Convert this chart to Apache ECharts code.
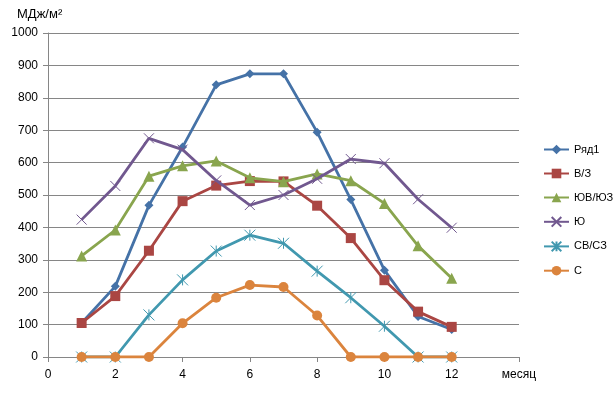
<!DOCTYPE html>
<html>
<head>
<meta charset="utf-8">
<script src="https://cdn.jsdelivr.net/npm/echarts@6/dist/echarts.min.js"></script>
<style>
html, body { margin: 0; padding: 0; background: #fff; }
#root { width: 615px; height: 396px; }
</style>
</head>
<body>
<div id="root"></div>
<script>
var months = [1, 2, 3, 4, 5, 6, 7, 8, 9, 10, 11, 12];
var seriesNames = ['Ряд1', 'В/З', 'ЮВ/ЮЗ', 'Ю', 'СВ/СЗ', 'С'];
var row1 = [105, 218, 468, 648, 840, 874, 874, 694, 486, 268, 125, 85];
var westEast = [105, 188, 328, 481, 529, 543, 542, 467, 367, 237, 140, 93];
var swSe = [312, 392, 558, 590, 605, 553, 541, 565, 544, 474, 343, 243];
var south = [424, 528, 675, 640, 545, 469, 500, 550, 611, 598, 487, 399];
var nwNe = [0, 0, 130, 238, 327, 376, 351, 265, 183, 95, 0, 0];
var north = [0, 0, 0, 104, 183, 222, 216, 128, 0, 0, 0, 0];
var colors = ['#4572A7', '#AA4643', '#89A54E', '#71588F', '#4198AF', '#DB843D'];

var crossPath = 'path://M0,0L10,10M10,0L0,10';
var starPath = 'path://M0,0L10,10M10,0L0,10M5,0L5,10';
var symbols = ['diamond', 'rect', 'triangle', crossPath, starPath, 'circle'];
var sizes = [9, 10, 11, 10, 11, 10];
var allData = [row1, westEast, swSe, south, nwNe, north];

var font = 'Liberation Sans';

function makeSeries(i) {
    var pts = months.map(function (m, k) { return [m, allData[i][k]]; });
    var stroke = (i === 3 || i === 4);
    return {
        name: seriesNames[i],
        type: 'line',
        data: pts,
        symbol: symbols[i],
        symbolSize: sizes[i],
        showAllSymbol: true,
        lineStyle: { color: colors[i], width: 2.8 },
        itemStyle: {
            color: stroke ? 'rgba(0,0,0,0)' : colors[i],
            borderColor: colors[i],
            borderWidth: stroke ? 1 : 0
        },
        emphasis: { disabled: true },
        z: 2 + i
    };
}

var chart = echarts.init(document.getElementById('root'), null, { renderer: 'canvas' });
var option = {
    animation: false,
    color: colors,
    textStyle: { fontFamily: font },
    title: {
        text: 'МДж/м²',
        left: 12,
        top: 3,
        textStyle: { fontFamily: font, fontSize: 13, fontWeight: 'normal', color: '#000' }
    },
    legend: {
        data: seriesNames,
        orient: 'vertical',
        left: 543,
        top: 144,
        padding: 0,
        itemGap: 13,
        itemWidth: 25,
        itemHeight: 12,
        textStyle: { fontFamily: font, fontSize: 11, color: '#000' }
    },
    grid: { left: 48, right: 96, top: 33, bottom: 39 },
    xAxis: {
        type: 'value',
        min: 0,
        max: 14,
        interval: 2,
        axisLine: { show: true, lineStyle: { color: '#868686', width: 1 } },
        axisTick: { show: true, length: 5, lineStyle: { color: '#868686' } },
        splitLine: { show: false },
        axisLabel: {
            color: '#000',
            fontSize: 12,
            fontFamily: font,
            margin: 12,
            formatter: function (v) { return v === 14 ? 'месяц' : String(v); }
        }
    },
    yAxis: {
        type: 'value',
        min: 0,
        max: 1000,
        interval: 100,
        axisLine: { show: true, lineStyle: { color: '#868686', width: 1 } },
        axisTick: { show: true, length: 5, lineStyle: { color: '#868686' } },
        splitLine: { show: true, lineStyle: { color: '#868686', width: 1 } },
        axisLabel: {
            color: '#000', fontSize: 12, fontFamily: font, margin: 10,
            formatter: function (v) { return String(v); }
        }
    },
    series: seriesNames.map(function (n, i) { return makeSeries(i); })
};
chart.setOption(option);
</script>
</body>
</html>
